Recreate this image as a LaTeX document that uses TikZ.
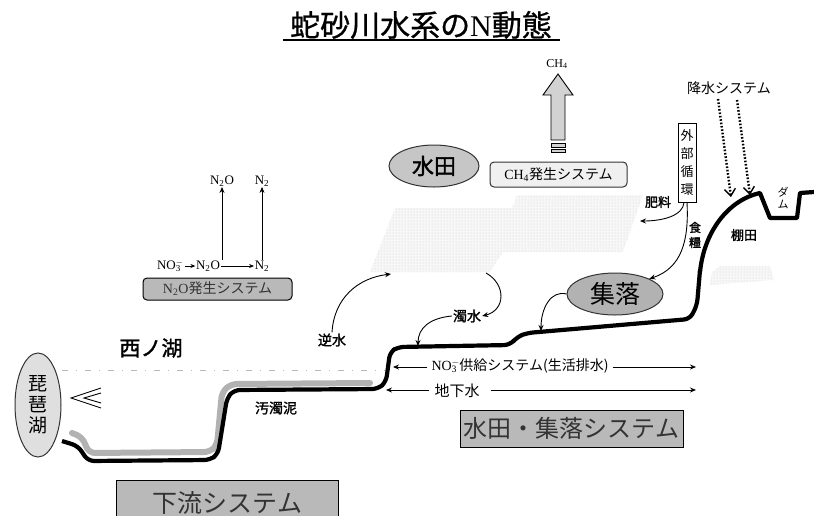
\documentclass[tikz,border=0pt]{standalone}
\usepackage{fontspec}
\setmainfont{Liberation Serif}
\newfontfamily\jp{Noto Sans CJK JP}
\newfontfamily\jpb[FakeBold=1.6]{Noto Sans CJK JP}
\newfontfamily\jpt[FakeBold=0.8]{Noto Sans CJK JP}
\usetikzlibrary{arrows.meta,patterns,shapes.geometric}
\newcommand\fsz[1]{\fontsize{#1}{#1}\selectfont}
\newcommand\nothree{NO\rlap{$^{-}$}\textsubscript{3}}
\begin{document}
\begin{tikzpicture}[x=1pt,y=-1pt,
  lbl/.style={inner sep=1pt,font=\jp\fsz{14}},
  blbl/.style={inner sep=1pt,font=\jpb\fsz{14}},
  chem/.style={inner sep=0.5pt,font=\rmfamily\fsz{13}},
  sysbox/.style={draw=black,line width=1pt,fill=gray!55,inner sep=0pt,text=black!80},
  oval/.style={ellipse,draw=black!80,line width=1pt,inner sep=0pt},
  thinarrow/.style={line width=0.9pt,-{Stealth[length=6pt,width=5pt]}},
  rainarrow/.style={line width=2.4pt,dash pattern=on 1.6pt off 1.8pt,-{Straight Barb[length=7pt,width=11pt,line width=1.4pt]}},
  band/.style={fill=gray!6},
  banddots/.style={pattern=dots,pattern color=gray!40}
]
\useasboundingbox (0,0) rectangle (814,515);

% title
\node[inner sep=0pt,font=\fsz{30}] (title) at (421,25) {\jpt 蛇砂川水系の\rmfamily N\jpt 動態};
\draw[line width=1.6pt] (283,40) -- (560,40);

% wet fields band (dotted fill)
\fill[band] (395,208) -- (512,208) -- (517,195) -- (643,195) -- (623,252) -- (503,252) -- (490,272) -- (370,272) -- cycle;
\fill[banddots] (395,208) -- (512,208) -- (517,195) -- (643,195) -- (623,252) -- (503,252) -- (490,272) -- (370,272) -- cycle;
\fill[band] (712,272) -- (720,266) -- (770,266) -- (774,280) -- (710,285) -- cycle;
\fill[banddots] (712,272) -- (720,266) -- (770,266) -- (774,280) -- (710,285) -- cycle;

% lake level line
\draw[gray!55,line width=0.8pt,dash pattern=on 6pt off 8pt on 1pt off 8pt] (62,370) -- (385,370);

% river bed profile
\draw[gray!60,line width=6pt,rounded corners=6pt,line cap=round]
  (72,433) -- (82,437) -- (89,453) -- (210,452) -- (217,445) -- (222,392) -- (231,384) -- (370,383);
\draw[black,line width=4.2pt,rounded corners=6pt]
  (62,441) -- (78,446) -- (88,461) -- (210,460) -- (218,454) -- (227,398) -- (234,390)
  -- (378,389) -- (386,382) -- (390,352) -- (398,347) -- (510,345) -- (517,337) -- (527,333)
  -- (690,319) -- (697,305) -- (700,270);
\draw[black,line width=4.2pt,line join=round]
  (700,272) .. controls (704,232) and (728,200) .. (760,193) -- (770,218) -- (797,218) -- (800,193) -- (814,192);

% N2O generation system
\node[chem] (n2otop) at (222,181) {N\textsubscript{2}O};
\node[chem] (n2top) at (262,181) {N\textsubscript{2}};
\node[chem] (no3) at (169,266) {\nothree};
\node[chem] (n2oa) at (208,266) {N\textsubscript{2}O};
\node[chem] (n2a) at (262,266) {N\textsubscript{2}};
\draw[line width=0.8pt,-{Stealth[length=5pt,width=4pt]}] (no3.east) ++(3,0) -- (n2oa.west);
\draw[line width=0.8pt,-{Stealth[length=5pt,width=4pt]}] (n2oa) -- (n2a);
\draw[line width=0.8pt,-{Stealth[length=6pt,width=5pt]}] (n2otop |- n2oa.north) -- (n2otop.south);
\draw[line width=0.8pt,-{Stealth[length=6pt,width=5pt]}] (n2top |- n2a.north) -- (n2top.south);
\node[sysbox,rounded corners=4pt,minimum width=149pt,minimum height=22pt,font=\fsz{14}] (n2obox) at (217.5,289)
  {\rmfamily N\textsubscript{2}O\jp 発生システム};

% paddy field and CH4
\node[oval,fill=gray!45,minimum width=90pt,minimum height=42pt,font=\jpb\fsz{22}] (suiden) at (434,166) {水田};
\node[draw=black!80,line width=1pt,fill=gray!12,rounded corners=4pt,minimum width=137pt,minimum height=25pt,inner sep=0pt,font=\fsz{14}] (ch4box) at (558.5,174.5)
  {\rmfamily CH\textsubscript{4}\jp 発生システム};
\draw[fill=gray!35,line width=0.9pt,line join=miter] (551,140) -- (551,95) -- (543,95) -- (558,74) -- (573,95) -- (565,95) -- (565,140) -- cycle;
\draw[fill=gray!35,line width=0.7pt] (551,143) rectangle (565,147);
\draw[fill=gray!35,line width=0.7pt] (551,149) rectangle (565,152);
\node[chem,font=\rmfamily\fsz{12}] (ch4) at (557,64) {CH\textsubscript{4}};

% external circulation
\node[draw=black,line width=0.9pt,fill=white,minimum width=18pt,minimum height=79pt,inner sep=1pt,align=center,font=\jp\fsz{13}] (gaibu) at (687,162.5)
  {外\\[5pt]部\\[5pt]循\\[5pt]環};
\node[lbl,font=\jpb\fsz{13}] (hiryo) at (658,202) {肥料};
\node[lbl,font=\jpb\fsz{12},align=center] (shokuryo) at (695,235) {食\\[3pt]糧};
\coordinate (hiryoend) at (640,221);
\draw[thinarrow] (gaibu.south) ++(-3,0) coordinate (gs1) .. controls (683,216) and (662,221) .. (hiryoend);

% settlement
\node[oval,fill=gray!60,minimum width=96pt,minimum height=42pt,font=\jp\fsz{25}] (shuraku) at (615,294) {集落};
\draw[thinarrow] (gaibu.south) .. controls (689,240) and (682,268) .. (shuraku.north east);
\coordinate (shgr) at (541,331);
\draw[thinarrow] (shuraku.west) .. controls (551,290) and (541,308) .. (shgr);

% rain
\node[lbl] (kousui) at (729,88) {降水システム};
\coordinate (rainA) at (731,197);
\coordinate (rainB) at (750,195);
\draw[rainarrow] (718,99) -- (rainA);
\draw[rainarrow] (737,100) -- (rainB);
\node[lbl,font=\jp\fsz{11},align=center] (dam) at (783,198) {ダ\\[1pt]ム};
\node[blbl,font=\jpb\fsz{13}] (tanada) at (744,235) {棚田};

% turbid water and backflow
\node[blbl] (dakusui) at (467,316) {濁水};
\coordinate (bandbot) at (486,273);
\draw[thinarrow] (bandbot) .. controls (506,284) and (506,310) .. (dakusui.east);
\coordinate (dkgr) at (418,346);
\draw[thinarrow] (dakusui.west) .. controls (430,318) and (418,328) .. (dkgr);
\node[blbl] (gyakusui) at (332,340) {逆水};
\coordinate (bandleft) at (391,274);
\draw[thinarrow] (gyakusui.north) .. controls (334,298) and (358,278) .. (bandleft);

% lakes
\node[blbl,font=\jpb\fsz{21}] (nishinoko) at (151,348) {西ノ湖};
\node[oval,fill=gray!25,minimum width=46pt,minimum height=104pt,align=center,font=\jp\fsz{19}] (biwako) at (38,405)
  {琵\\[2pt]琶\\[2pt]湖};
\draw[line width=0.9pt,line join=miter] (101,388) -- (71,398) -- (101,408);
\draw[line width=0.9pt,line join=miter] (101,393) -- (84,398) -- (101,403);
\node[blbl] (odakudei) at (276,408) {汚濁泥};

% supply and groundwater flows
\node[inner sep=0pt,font=\fsz{14}] (supply) at (520,366) {\rmfamily\nothree\,\jp 供給システム(生活排水)};
\coordinate (supL) at (393,367);
\coordinate (supR) at (696,367);
\draw[line width=0.8pt,-{Stealth[length=6pt,width=5pt]}] (supply.west |- supL) ++(-4,0) -- (supL);
\draw[line width=0.8pt,-{Stealth[length=6pt,width=5pt]}] (supply.east |- supR) ++(4,0) -- (supR);
\node[inner sep=0pt,font=\jp\fsz{15}] (chika) at (457,391) {地下水};
\coordinate (chL) at (386,390);
\coordinate (chR) at (696,390);
\draw[line width=0.8pt,-{Stealth[length=6pt,width=5pt]}] (chika.west |- chL) ++(-5,0) -- (chL);
\draw[line width=0.8pt,-{Stealth[length=6pt,width=5pt]}] (chika.east |- chR) ++(11,0) -- (chR);

% system labels
\node[sysbox,minimum width=223pt,minimum height=37pt,font=\jp\fsz{24}] (ssbox) at (571.5,428.5) {水田・集落システム};
\node[sysbox,minimum width=222pt,minimum height=40pt,font=\jp\fsz{25},anchor=north west,text depth=0pt] (karyu) at (116,480) {\raisebox{-2pt}{下流システム}};
\end{tikzpicture}
\end{document}
